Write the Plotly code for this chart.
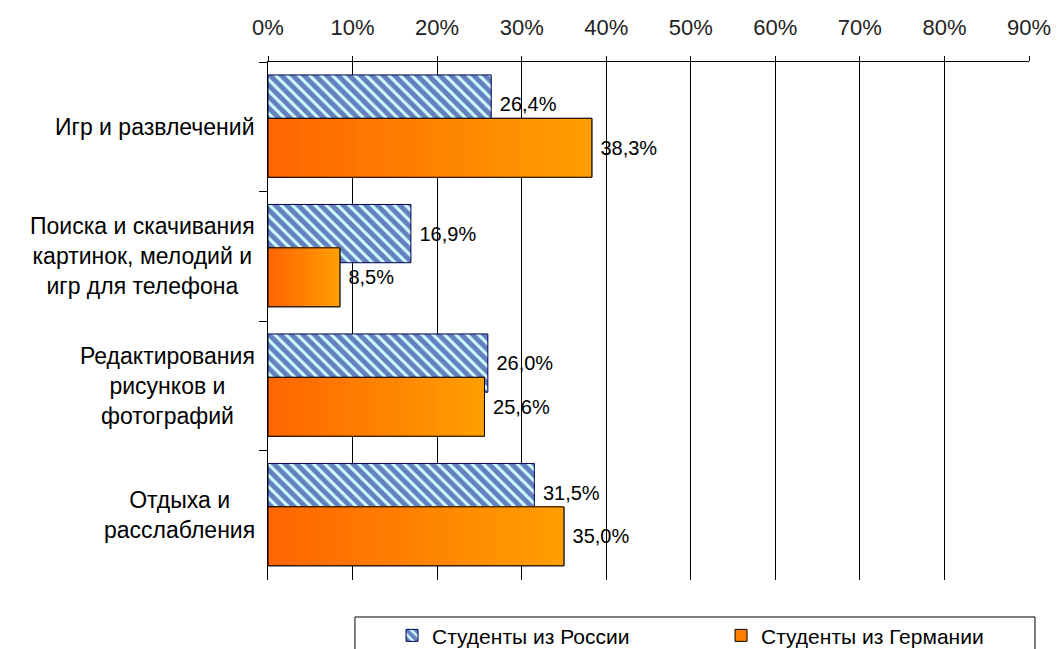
import plotly.graph_objects as go

# ---- data ----
categories = [
    "Игр и развлечений",
    "Поиска и скачивания<br>картинок, мелодий и<br>игр для телефона",
    "Редактирования<br>рисунков и<br>фотографий",
    "Отдыха и<br>расслабления",
]
russia = [26.4, 16.9, 26.0, 31.5]
germany = [38.3, 8.5, 25.6, 35.0]
series_names = ["Студенты из России", "Студенты из Германии"]
x_ticks = [0, 10, 20, 30, 40, 50, 60, 70, 80, 90]
x_tick_labels = ["0%", "10%", "20%", "30%", "40%", "50%", "60%", "70%", "80%", "90%"]

# ---- style ----
FONT = "Liberation Sans, Arial, sans-serif"
RUS_OFFSET, RUS_WIDTH = -0.40, 0.45
GER_OFFSET, GER_WIDTH = -0.065, 0.455
GRAD_LEFT = (255, 102, 0)
GRAD_RIGHT = (255, 158, 0)
N_GRAD = 40

fig = go.Figure()

# Russia (hatched)
fig.add_trace(go.Bar(
    y=categories, x=russia, orientation="h", name=series_names[0],
    offset=RUS_OFFSET, width=RUS_WIDTH,
    marker=dict(color="#CCFFFF", line=dict(color="#000050", width=1),
                pattern=dict(shape="\\", fgcolor="#000080", bgcolor="#CCFFFF",
                             size=8, solidity=0.62)),
    texttemplate=" %{x:.1f}%", textposition="outside", constraintext="none",
    textfont=dict(family=FONT, size=20, color="black"), cliponaxis=False,
))

# Germany base bar (legend entry)
fig.add_trace(go.Bar(
    y=categories, x=germany, orientation="h", name=series_names[1],
    offset=GER_OFFSET, width=GER_WIDTH,
    marker=dict(color="#FF7F00", line=dict(color="black", width=1)),
))

# Germany horizontal gradient
for k in range(N_GRAD):
    t = k / (N_GRAD - 1)
    c = tuple(round(GRAD_LEFT[i] + (GRAD_RIGHT[i] - GRAD_LEFT[i]) * t) for i in range(3))
    fig.add_trace(go.Bar(
        y=categories,
        x=[v * (1 - k / N_GRAD) for v in germany],
        base=[v * k / N_GRAD for v in germany],
        orientation="h", offset=GER_OFFSET, width=GER_WIDTH,
        marker=dict(color="rgb(%d,%d,%d)" % c, line=dict(width=0)),
        showlegend=False, hoverinfo="skip",
    ))

# Germany outline + labels
fig.add_trace(go.Bar(
    y=categories, x=germany, orientation="h", name=series_names[1],
    offset=GER_OFFSET, width=GER_WIDTH, showlegend=False,
    marker=dict(color="rgba(0,0,0,0)", line=dict(color="black", width=1)),
    texttemplate=" %{x:.1f}%", textposition="outside", constraintext="none",
    textfont=dict(family=FONT, size=20, color="black"), cliponaxis=False,
))

# category labels (centered multi-line, right-aligned block)
for cat in categories:
    fig.add_annotation(
        x=0, xref="paper", y=cat, yref="y", xanchor="right", xshift=-11,
        text=cat, showarrow=False, align="center",
        font=dict(family=FONT, size=23, color="black"),
    )

# legend frame
fig.add_shape(type="rect", xref="paper", yref="paper",
              x0=0.1143, x1=1.0079, y0=-0.0714, y1=-0.2,
              line=dict(color="black", width=1), fillcolor="white", layer="below")

fig.update_layout(
    width=1056, height=641,
    barmode="overlay",
    separators=", ",
    plot_bgcolor="white", paper_bgcolor="white",
    font=dict(family=FONT, size=21, color="black"),
    margin=dict(l=260, r=35, t=54, b=69, autoexpand=False),
    xaxis=dict(
        side="top", range=[0, 90], tickvals=x_ticks, ticktext=x_tick_labels,
        showgrid=True, gridcolor="black", gridwidth=1,
        ticks="outside", ticklen=5, tickcolor="black", tickwidth=1,
        showline=True, linecolor="black", linewidth=1, zeroline=False,
        tickfont=dict(family=FONT, size=22, color="#222"), ticklabelstandoff=12,
    ),
    yaxis=dict(
        categoryorder="array", categoryarray=categories,
        range=[3.5, -0.5], showticklabels=False,
        ticks="outside", tickson="boundaries", ticklen=8, tickcolor="black",
        showline=True, linecolor="black", linewidth=1, showgrid=False, zeroline=False,
    ),
    legend=dict(
        orientation="h", x=0.163, xanchor="left", y=-0.068, yanchor="top",
        borderwidth=0, bgcolor="rgba(0,0,0,0)",
        font=dict(family=FONT, size=21, color="black"), traceorder="normal",
        entrywidth=284,
    ),
    showlegend=True,
)

fig.write_html("out.html")
